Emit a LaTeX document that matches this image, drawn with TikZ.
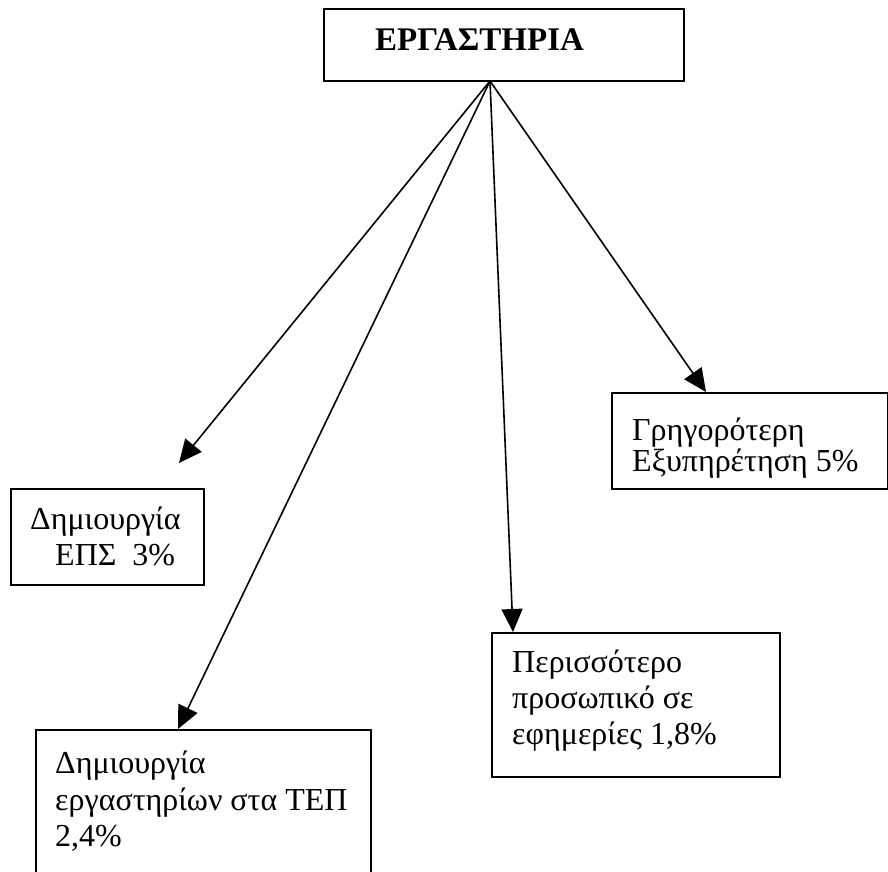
\documentclass[tikz,border=0pt]{standalone}
\usepackage{fontspec}
\setmainfont{Liberation Serif}
\usetikzlibrary{arrows.meta}
\begin{document}
\begin{tikzpicture}[x=1pt,y=-1pt,
  box/.style={draw=black, line width=1.8pt, rectangle, inner sep=0pt, anchor=north west},
  txt/.style={anchor=base west, inner sep=0pt, font=\fontsize{32}{36}\selectfont},
  link/.style={line width=1.6pt, -{Triangle[length=23pt,width=21pt]}}]
\useasboundingbox (0,0) rectangle (888,871);

% boxes
\node[box, minimum width=360, minimum height=72] (top) at (323,8) {};
\node[box, minimum width=193, minimum height=96] (eps) at (10,488) {};
\node[box, minimum width=335, minimum height=180] (tep) at (35,729) {};
\node[box, minimum width=288, minimum height=144] (pers) at (491,632) {};
\node[box, minimum width=276, minimum height=96] (grig) at (611,392) {};

% texts
\node[txt, font=\fontsize{33}{36}\selectfont\bfseries] (toptxt) at (375,50) {ΕΡΓΑΣΤΗΡΙΑ};
\node[txt] (eps1) at (30,529) {Δημιουργία};
\node[txt] (eps2) at (55,565) {ΕΠΣ\ \ 3\%};
\node[txt] (tep1) at (55,773) {Δημιουργία};
\node[txt] (tep2) at (55,810) {εργαστηρίων στα ΤΕΠ};
\node[txt] (tep3) at (55,846) {2,4\%};
\node[txt] (pers1) at (512,672) {Περισσότερο};
\node[txt] (pers2) at (512,708) {προσωπικό σε};
\node[txt] (pers3) at (512,744) {εφημερίες 1,8\%};
\node[txt] (grig1) at (632,440) {Γρηγορότερη};
\node[txt] (grig2) at (632,471) {Εξυπηρέτηση 5\%};

% arrow end points
\coordinate (hub) at (490,81);
\coordinate (tipEps) at (179,463);
\coordinate (tipTep) at (178,729);
\coordinate (tipPers) at (513,632);
\coordinate (tipGrig) at (706,392);

\draw[link] (hub) -- (tipEps);
\draw[link] (hub) -- (tipTep);
\draw[link] (hub) -- (tipPers);
\draw[link] (hub) -- (tipGrig);
\end{tikzpicture}
\end{document}
